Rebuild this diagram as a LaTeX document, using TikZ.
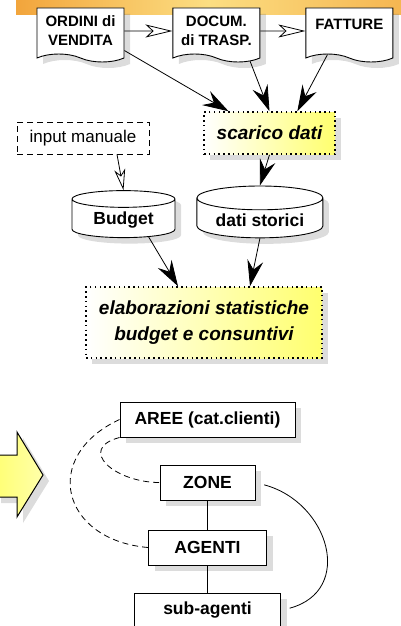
\documentclass[tikz,border=0pt]{standalone}
\usepackage{fontspec}
\setmainfont{Liberation Sans}
\usetikzlibrary{positioning, arrows.meta, shapes.geometric, shapes.symbols, shadows, calc}
\definecolor{bandorange}{RGB}{242,165,60}
\definecolor{bandlight}{RGB}{252,222,130}
\definecolor{boxyellow}{RGB}{255,255,110}
\definecolor{arrowyellow}{RGB}{255,255,170}

\begin{document}
\begin{tikzpicture}[
    x=1pt, y=1pt,
    shadowed/.style={drop shadow={shadow xshift=6pt, shadow yshift=-6pt, opacity=0.28}},
    doc/.style={draw, line width=0.9pt, tape, tape bend top=none, tape bend bottom=out and in, tape bend height=8pt, fill=white, minimum width=87pt, minimum height=54pt, align=center, font=\fontsize{15}{19}\selectfont\bfseries, shadowed},
    datbox/.style={draw, dash pattern=on 1.5pt off 3.3pt, line width=1.5pt, left color=white, right color=boxyellow, align=center, font=\fontsize{19}{26}\selectfont\bfseries\itshape, shadowed},
    store/.style={draw, line width=0.9pt, cylinder, shape border rotate=90, aspect=0.25, fill=white, font=\fontsize{17.5}{20}\selectfont\bfseries, shadowed},
    level/.style={draw, line width=1pt, fill=white, minimum height=35pt, font=\fontsize{17.5}{20}\selectfont\bfseries, shadowed},
    feed/.style={-{Stealth[length=26pt, width=16pt, inset=9pt]}, line width=0.8pt},
    pass/.style={-{Stealth[open, length=27pt, width=13pt, inset=7pt]}, line width=0.8pt},
    inpass/.style={-{Stealth[open, length=21pt, width=11pt, inset=6pt]}, line width=0.8pt}
]
    \useasboundingbox (0,0) rectangle (401,-626);
    \shade[left color=bandorange, right color=bandorange!70!bandlight, middle color=bandlight] (16,0) rectangle (401,-15);

    \node[doc] (ordini) at (80.5,-31) {ORDINI di\\VENDITA};
    \node[doc] (docum) [right=48pt of ordini] {DOCUM.\\di TRASP.};
    \node[doc] (fatture) [right=45pt of docum] {FATTURE\\[-6pt]};

    \draw[pass] (ordini) -- (docum);
    \draw[pass] (docum) -- (fatture);

    \node[datbox, minimum width=131pt, minimum height=42pt] (scarico) at (269.5,-133) {scarico dati};
    \node[draw, line width=0.9pt, dash pattern=on 6pt off 4pt, minimum width=132pt, minimum height=32pt, font=\fontsize{17}{20}\selectfont] (input) at (83,-138) {input manuale};

    \draw[feed] (ordini.-24) -- (scarico.152);
    \draw[feed] (docum.-42) -- (scarico.north);
    \draw[feed] (fatture.236) -- (scarico.38);

    \node[store, minimum width=103pt, minimum height=47pt] (budget) at (123.5,-220) {Budget};
    \node[store, minimum width=126pt, minimum height=47pt] (storici) [right=21pt of budget] {dati storici};

    \draw[inpass] ([xshift=34pt]input.south) -- (budget.north);
    \draw[feed] (scarico.south) -- (storici.north);

    \node[datbox, minimum width=236pt, minimum height=71pt] (elab) at (204,-322.5) {elaborazioni statistiche\\budget e consuntivi};

    \draw[feed] (budget.-34) -- ([xshift=-26pt]elab.north);
    \draw[feed] (storici.south) -- ([xshift=46pt]elab.north);

    \shade[draw, line width=1pt, left color=yellow!55, right color=arrowyellow, shadowed] (-5,-455) -- (17,-455) -- (17,-432) -- (43,-475) -- (17,-517) -- (17,-497) -- (-5,-497) -- cycle;

    \node[level, minimum width=175pt] (aree) at (207.5,-419.5) {AREE (cat.clienti)};
    \node[level, minimum width=95pt] (zone) [below=27pt of aree] {ZONE};
    \node[level, minimum width=118pt] (agenti) [below=29pt of zone] {AGENTI};
    \node[level, minimum width=146pt] (sub) [below=27pt of agenti] {sub-agenti};

    \draw[line width=0.8pt] (zone) -- (agenti);
    \draw[line width=0.8pt] (agenti) -- (sub);
    \draw[line width=0.8pt, dash pattern=on 6pt off 4pt] (aree.west) to[out=205, in=175, looseness=1.7] (agenti.west);
    \draw[line width=0.8pt, dash pattern=on 6pt off 4pt] (aree.south west) to[out=195, in=180, looseness=1.9] (zone.west);
    \draw[line width=0.8pt, shorten <=9pt, shorten >=9pt] (zone.east) to[out=-15, in=15, looseness=1.5] (sub.east);
\end{tikzpicture}
\end{document}
